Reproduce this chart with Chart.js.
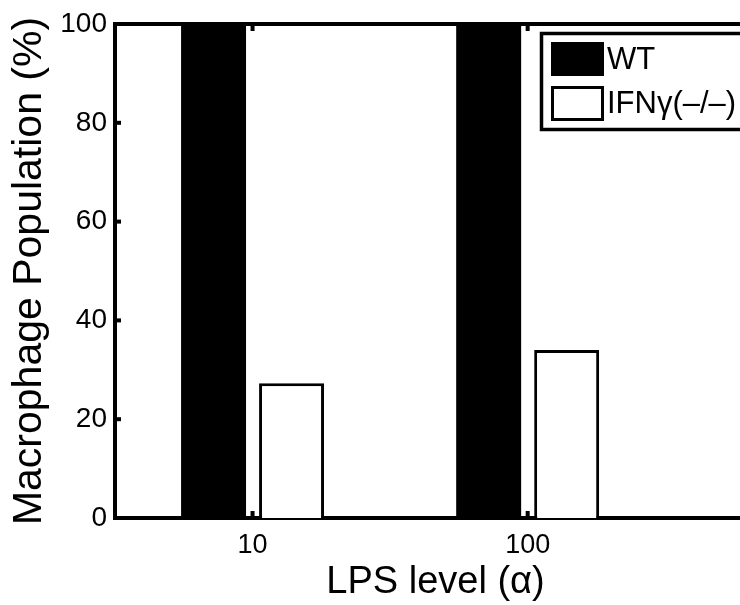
<!DOCTYPE html>
<html lang="en">
<head>
    <meta charset="UTF-8">
    <title>Macrophage Population vs LPS level</title>
    <script src="https://cdn.jsdelivr.net/npm/chart.js"></script>
    <style>
        body { margin: 0; overflow: hidden; background: #fff; }
        canvas { display: block; }
    </style>
</head>
<body>
    <canvas id="barChart" width="770" height="605"></canvas>

    <script>
        // data
        const lpsLevels = ['10', '100'];
        const lpsPositions = [1, 2];
        const wtValues = [100, 100];
        const ifnValues = [27.3, 34.0];
        const seriesNames = ['WT', 'IFNγ(–/–)'];
        const yTicks = [0, 20, 40, 60, 80, 100];

        const FONT = '"Liberation Sans", Arial, Helvetica, sans-serif';

        // matlab style box: top line, inward ticks, boxed legend
        const matlabBox = {
            id: 'matlabBox',
            afterDatasetsDraw(chart) {
                const ctx = chart.ctx;
                const area = chart.chartArea;
                const xs = chart.scales.x, ys = chart.scales.y;
                ctx.save();
                ctx.strokeStyle = '#000';
                ctx.lineWidth = 4;
                ctx.beginPath();
                ctx.moveTo(area.left - 2, area.top);
                ctx.lineTo(area.right, area.top);
                ctx.stroke();

                ys.ticks.forEach(t => {
                    const y = ys.getPixelForValue(t.value);
                    ctx.beginPath();
                    ctx.moveTo(area.left, y);
                    ctx.lineTo(area.left + 6, y);
                    ctx.stroke();
                });
                xs.ticks.forEach(t => {
                    const x = xs.getPixelForValue(t.value);
                    ctx.beginPath();
                    ctx.moveTo(x, area.bottom);
                    ctx.lineTo(x, area.bottom - 7);
                    ctx.moveTo(x, area.top);
                    ctx.lineTo(x, area.top + 7);
                    ctx.stroke();
                });

                // legend
                ctx.fillStyle = '#fff';
                ctx.fillRect(541, 33, 240, 97);
                ctx.lineWidth = 3.5;
                ctx.strokeRect(541.5, 33.5, 240, 96);
                ctx.font = '31px ' + FONT;
                ctx.textBaseline = 'middle';
                chart.data.datasets.forEach((ds, i) => {
                    const top = 42 + i * 44;
                    if (ds.borderWidth) {
                        ctx.fillStyle = ds.backgroundColor;
                        ctx.fillRect(552, top + 1, 51, 33);
                        ctx.lineWidth = 3;
                        ctx.strokeStyle = ds.borderColor;
                        ctx.strokeRect(552.5, top + 1.5, 50, 32);
                    } else {
                        ctx.fillStyle = ds.backgroundColor;
                        ctx.fillRect(551, top, 53, 34);
                    }
                    ctx.fillStyle = '#000';
                    ctx.fillText(ds.label, 607, top + 18);
                });
                ctx.restore();
            }
        };

        new Chart(document.getElementById('barChart'), {
            type: 'bar',
            data: {
                datasets: [{
                    label: seriesNames[0],
                    data: lpsPositions.map((x, i) => ({ x: x, y: wtValues[i] })),
                    backgroundColor: '#000',
                    borderWidth: 0
                }, {
                    label: seriesNames[1],
                    data: lpsPositions.map((x, i) => ({ x: x, y: ifnValues[i] })),
                    backgroundColor: '#fff',
                    borderColor: '#000',
                    borderWidth: 3
                }]
            },
            options: {
                responsive: false,
                animation: false,
                categoryPercentage: 0.567,
                barPercentage: 0.833,
                layout: { padding: { top: 24, right: 14, left: 0, bottom: 0 } },
                plugins: {
                    legend: { display: false },
                    tooltip: { enabled: false }
                },
                scales: {
                    x: {
                        type: 'linear',
                        offset: false,
                        min: 0.5,
                        max: 2.83,
                        afterBuildTicks: s => { s.ticks = lpsPositions.map(v => ({ value: v })); },
                        afterFit: s => { s.height = 87; },
                        grid: { display: false },
                        border: { display: true, color: '#000', width: 4 },
                        ticks: {
                            color: '#000',
                            padding: 3,
                            font: { family: FONT, size: 27 },
                            callback: v => lpsLevels[lpsPositions.indexOf(v)]
                        },
                        title: {
                            display: true,
                            text: 'LPS level (α)',
                            color: '#000',
                            font: { family: FONT, size: 38 },
                            padding: { top: 0, bottom: 0 }
                        }
                    },
                    y: {
                        min: 0,
                        max: 100,
                        afterBuildTicks: s => { s.ticks = yTicks.map(v => ({ value: v })); },
                        afterFit: s => { s.width = 115; },
                        grid: { display: false },
                        border: { display: true, color: '#000', width: 4 },
                        ticks: {
                            color: '#000',
                            padding: 0,
                            font: { family: FONT, size: 28 }
                        },
                        title: {
                            display: true,
                            text: 'Macrophage Population (%)',
                            color: '#000',
                            font: { family: FONT, size: 41 },
                            padding: { top: 5, bottom: 0 }
                        }
                    }
                }
            },
            plugins: [matlabBox]
        });
    </script>
</body>
</html>
